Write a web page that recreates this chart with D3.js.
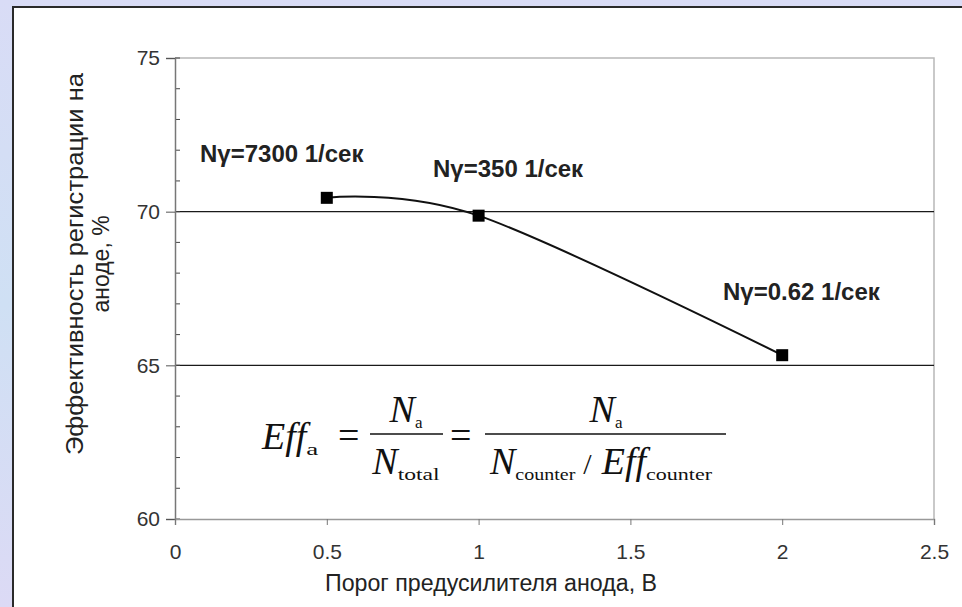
<!DOCTYPE html>
<html>
<head>
<meta charset="utf-8">
<script src="https://cdn.jsdelivr.net/npm/d3@7"></script>
<style>
  body { margin: 0; background: #d4def4; }
  svg { display: block; }
</style>
</head>
<body>
<div class="chart"></div>
<script>
// Data
var thresholds = [0.5, 1, 2];
var efficiency = [70.45, 69.87, 65.33];
var rateLabels = ["Nγ=7300 1/сек", "Nγ=350 1/сек", "Nγ=0.62 1/сек"];
var xTicks = [0, 0.5, 1, 1.5, 2, 2.5];
var yTicks = [60, 65, 70, 75];
var yMinorTicks = d3.range(60, 76, 1);

var W = 962, H = 607;
var margin = {top: 58, right: 28, bottom: 88, left: 175},
width = W - margin.left - margin.right,
height = H - margin.top - margin.bottom;

var svg = d3.select(".chart")
  .append("svg")
  .attr("width", W)
  .attr("height", H);

// Slide background and white panel
var defs = svg.append("defs");
var grad = defs.append("linearGradient")
  .attr("id", "bg")
  .attr("x1", 0).attr("y1", 0).attr("x2", 0).attr("y2", 1);
grad.append("stop").attr("offset", "0%").attr("stop-color", "#d9dcf6");
grad.append("stop").attr("offset", "50%").attr("stop-color", "#cfe0f4");
grad.append("stop").attr("offset", "100%").attr("stop-color", "#dcdaf5");
svg.append("rect").attr("width", W).attr("height", H).attr("fill", "url(#bg)");
svg.append("rect")
  .attr("x", 13).attr("y", 7)
  .attr("width", W).attr("height", H)
  .attr("fill", "#ffffff");
svg.append("path")
  .attr("d", "M13," + H + "V7H" + W)
  .attr("fill", "none")
  .attr("stroke", "#2a2a2a")
  .attr("stroke-width", 2);

var g = svg.append("g")
  .attr("transform", "translate(" + margin.left + "," + margin.top + ")");

var x = d3.scaleLinear().domain([0, 2.5]).range([0, width]);
var y = d3.scaleLinear().domain([60, 75]).range([height, 0]);

// Plot frame (top and right)
g.append("path")
  .attr("d", "M0,0H" + width + "V" + height)
  .attr("fill", "none")
  .attr("stroke", "#b8b8b8")
  .attr("stroke-width", 1.5);

// Gridlines
g.append("g")
  .selectAll("line")
  .data([65, 70])
  .enter().append("line")
  .attr("x1", 0).attr("x2", width)
  .attr("y1", d => y(d)).attr("y2", d => y(d))
  .attr("stroke", "#1a1a1a")
  .attr("stroke-width", 1.2);

// Y axis minor ticks (inside)
g.append("g")
  .selectAll("line")
  .data(yMinorTicks)
  .enter().append("line")
  .attr("x1", 0).attr("x2", 5)
  .attr("y1", d => y(d)).attr("y2", d => y(d))
  .attr("stroke", "#444")
  .attr("stroke-width", 1);

// Y axis
g.append("g")
  .style("font", "21px 'Liberation Sans', Arial")
  .call(d3.axisLeft(y).tickValues(yTicks).tickSize(9).tickPadding(6).tickFormat(d3.format("d")))
  .call(g => g.select(".domain").attr("stroke", "#777").attr("stroke-width", 1.5))
  .call(g => g.selectAll(".tick line").attr("stroke", "#555"))
  .call(g => g.selectAll(".tick text").attr("fill", "#333"));

// X axis
g.append("g")
  .attr("transform", "translate(0," + height + ")")
  .style("font", "21px 'Liberation Sans', Arial")
  .call(d3.axisBottom(x).tickValues(xTicks).tickSize(6).tickPadding(19).tickFormat(d => d))
  .call(g => g.select(".domain").attr("stroke", "#999").attr("stroke-width", 1.5))
  .call(g => g.selectAll(".tick line").attr("stroke", "#777"))
  .call(g => g.selectAll(".tick text").attr("fill", "#333"));

// Axis titles
svg.append("text")
  .attr("x", 491).attr("y", 591)
  .style("font", "23px 'Liberation Sans', Arial")
  .attr("fill", "#222")
  .attr("text-anchor", "middle")
  .attr("textLength", 332)
  .attr("lengthAdjust", "spacingAndGlyphs")
  .text("Порог предусилителя анода, В");

var yTitle = svg.append("text")
  .attr("transform", "translate(83,264) rotate(-90)")
  .style("font", "23px 'Liberation Sans', Arial")
  .attr("fill", "#222")
  .attr("text-anchor", "middle");
yTitle.append("tspan").attr("x", 0).attr("y", 0)
  .attr("textLength", 382).attr("lengthAdjust", "spacingAndGlyphs")
  .text("Эффективность регистрации на");
yTitle.append("tspan").attr("x", 0).attr("y", 26).text("аноде, %");

// Series line (Excel-style smoothed)
var points = thresholds.map((t, i) => ({x: t, y: efficiency[i], label: rateLabels[i]}));

g.append("path")
  .datum(points)
  .attr("fill", "none")
  .attr("stroke", "#111")
  .attr("stroke-width", 2)
  .attr("d", d3.line().x(d => x(d.x)).y(d => y(d.y)).curve(d3.curveCardinal.tension(0)));

g.selectAll(".marker")
  .data(points)
  .enter().append("rect")
  .attr("class", "marker")
  .attr("x", d => x(d.x) - 6)
  .attr("y", d => y(d.y) - 6)
  .attr("width", 12)
  .attr("height", 12)
  .attr("fill", "#000");

// Rate labels
var labelPos = [[25, 104], [258, 119], [548, 242]];
g.selectAll(".rate")
  .data(points)
  .enter().append("text")
  .attr("class", "rate")
  .attr("x", (d, i) => labelPos[i][0])
  .attr("y", (d, i) => labelPos[i][1])
  .style("font", "bold 24px 'Liberation Sans', Arial")
  .attr("fill", "#222")
  .text(d => d.label);

// Formula
var f = svg.append("g")
  .style("font-family", "'Liberation Serif', 'Times New Roman', serif")
  .attr("fill", "#111");
function term(x0, y0, main, sub, subLen, anchor) {
  var t = f.append("text").attr("x", x0).attr("y", y0)
    .attr("text-anchor", anchor || "start")
    .style("font-size", "38px");
  t.append("tspan").style("font-style", "italic").text(main);
  var s = t.append("tspan").attr("dy", 6).style("font-size", "17px").text(sub);
  if (subLen) s.attr("textLength", subLen).attr("lengthAdjust", "spacingAndGlyphs");
  return t;
}
term(262, 449, "Eff", "a", 12);
f.append("text").attr("x", 338).attr("y", 448).style("font-size", "38px").text("=");
term(406, 422, "N", "a", 0, "middle");
f.append("line").attr("x1", 370).attr("x2", 443).attr("y1", 434).attr("y2", 434).attr("stroke", "#111").attr("stroke-width", 1.3);
term(406, 474, "N", "total", 42, "middle");
f.append("text").attr("x", 450).attr("y", 448).style("font-size", "38px").text("=");
term(606, 422, "N", "a", 0, "middle");
f.append("line").attr("x1", 485).attr("x2", 726).attr("y1", 434).attr("y2", 434).attr("stroke", "#111").attr("stroke-width", 1.3);
var den = f.append("text").attr("x", 490).attr("y", 474).style("font-size", "38px");
den.append("tspan").style("font-style", "italic").text("N");
den.append("tspan").attr("dy", 6).style("font-size", "17px")
  .attr("textLength", 60).attr("lengthAdjust", "spacingAndGlyphs").text("counter");
den.append("tspan").attr("dy", -6).attr("dx", 8).style("font-size", "30px").text("/");
den.append("tspan").attr("dx", 10).style("font-style", "italic").text("Eff");
den.append("tspan").attr("dy", 6).style("font-size", "17px")
  .attr("textLength", 66).attr("lengthAdjust", "spacingAndGlyphs").text("counter");
</script>
</body>
</html>
